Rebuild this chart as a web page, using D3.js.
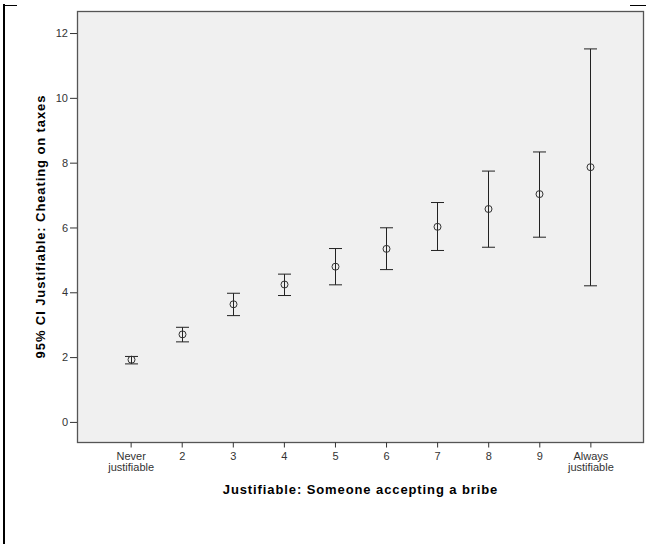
<!DOCTYPE html>
<html>
<head>
<meta charset="utf-8">
<script src="https://cdn.jsdelivr.net/npm/d3@7"></script>
<style>
  body { margin: 0; background: #fff; }
  svg { display: block; font-family: Arial, "Liberation Sans", sans-serif; }
  .tick text { fill: #333; font-size: 11px; }
  .axisTitle { font-weight: bold; font-size: 13px; letter-spacing: 0.9px; fill: #000; }
</style>
</head>
<body>
<div id="chart"></div>
<script>
// categories on the x axis (labels split on \n)
const categories = ["Never\njustifiable", "2", "3", "4", "5", "6", "7", "8", "9", "Always\njustifiable"];
// mean and 95% CI bounds
const means = [1.92, 2.70, 3.63, 4.24, 4.79, 5.34, 6.02, 6.57, 7.03, 7.86];
const lower = [1.79, 2.47, 3.28, 3.90, 4.23, 4.70, 5.29, 5.39, 5.70, 4.20];
const upper = [2.02, 2.92, 3.97, 4.56, 5.35, 5.99, 6.77, 7.74, 8.33, 11.51];
const yTicks = [0, 2, 4, 6, 8, 10, 12];

const width = 646, height = 544;
const margin = {top: 11, right: 2, bottom: 102, left: 77};

const svg = d3.select("#chart").append("svg")
    .attr("width", width)
    .attr("height", height);

// outer frame bits from the output viewer
svg.append("line").attr("x1", 4).attr("x2", 4).attr("y1", 4).attr("y2", height)
    .attr("stroke", "#000").attr("stroke-width", 2);
svg.append("line").attr("x1", 3).attr("x2", 17).attr("y1", 5.5).attr("y2", 5.5)
    .attr("stroke", "#000").attr("stroke-width", 1);
svg.append("line").attr("x1", 630).attr("x2", 646).attr("y1", 5.5).attr("y2", 5.5)
    .attr("stroke", "#000").attr("stroke-width", 1);

let data = categories.map((c, i) => ({cat: c, mean: means[i], lo: lower[i], hi: upper[i]}));

let x = d3.scalePoint()
    .domain(categories)
    .range([margin.left, width - margin.right])
    .padding(1.05);

let y = d3.scaleLinear()
    .domain([-0.62, 12.68])
    .range([height - margin.bottom, margin.top]);

// plot background
svg.append("rect")
    .attr("x", margin.left + 0.5)
    .attr("y", margin.top + 0.5)
    .attr("width", width - margin.right - margin.left - 1)
    .attr("height", height - margin.bottom - margin.top)
    .attr("fill", "#f0f0f0")
    .attr("stroke", "#555")
    .attr("stroke-width", 1.3);

// y axis
let yAxis = d3.axisLeft(y).tickValues(yTicks).tickSize(7).tickPadding(2);
let gy = svg.append("g")
    .attr("transform", `translate(${margin.left}, 0)`)
    .call(yAxis);
gy.select(".domain").remove();
gy.selectAll(".tick line").attr("stroke", "#333");

// x axis
let xAxis = d3.axisBottom(x).tickSize(5).tickPadding(5);
let gx = svg.append("g")
    .attr("transform", `translate(0, ${height - margin.bottom + 0.5})`)
    .call(xAxis);
gx.select(".domain").remove();
gx.selectAll(".tick line").attr("stroke", "#333");
gx.selectAll(".tick text").each(function (d) {
    let t = d3.select(this);
    let lines = d.split("\n");
    t.text(null);
    lines.forEach((s, i) => {
        t.append("tspan")
            .attr("x", 0)
            .attr("dy", i == 0 ? "0.71em" : "0.95em")
            .text(s);
    });
});

// error bars
const cap = 6.5;
let bars = svg.append("g").attr("stroke", "#222").attr("stroke-width", 1).attr("fill", "none");
let eb = bars.selectAll("g.eb")
    .data(data)
    .enter()
    .append("g")
    .attr("class", "eb")
    .attr("transform", d => `translate(${Math.round(x(d.cat)) + 0.5}, 0)`);

eb.append("line")
    .attr("y1", d => y(d.lo))
    .attr("y2", d => y(d.hi));
eb.append("line")
    .attr("x1", -cap).attr("x2", cap)
    .attr("y1", d => y(d.hi)).attr("y2", d => y(d.hi));
eb.append("line")
    .attr("x1", -cap).attr("x2", cap)
    .attr("y1", d => y(d.lo)).attr("y2", d => y(d.lo));
eb.append("circle")
    .attr("cy", d => y(d.mean))
    .attr("r", 3.5)
    .attr("stroke", "#333");

// axis titles
svg.append("text")
    .attr("class", "axisTitle")
    .attr("x", (margin.left + width - margin.right) / 2)
    .attr("y", 494)
    .attr("text-anchor", "middle")
    .text("Justifiable: Someone accepting a bribe");

svg.append("text")
    .attr("class", "axisTitle")
    .attr("transform", `translate(45, ${(margin.top + height - margin.bottom) / 2}) rotate(-90)`)
    .attr("text-anchor", "middle")
    .text("95% CI Justifiable: Cheating on taxes");
</script>
</body>
</html>
